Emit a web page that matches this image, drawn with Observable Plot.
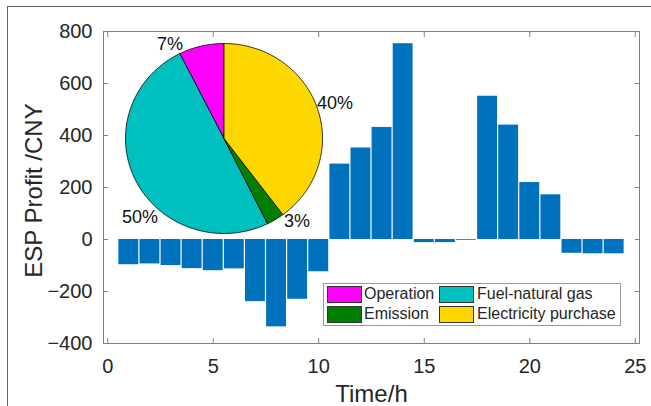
<!DOCTYPE html>
<html><head><meta charset="utf-8">
<script src="https://cdn.jsdelivr.net/npm/d3@7"></script>
<script src="https://cdn.jsdelivr.net/npm/@observablehq/plot@0.6"></script>
<style>
body{margin:0;background:#fff;}
#wrap{position:relative;width:651px;height:406px;overflow:hidden;font-family:"Liberation Sans",Arial,Helvetica,sans-serif;color:#262626;}
#wrap svg{position:absolute;left:0;top:0;}
#border{position:absolute;left:7px;top:6px;width:700px;height:500px;border:1.5px solid #666;}
#legend{position:absolute;left:323px;top:283px;width:296px;height:41px;border:1px solid #999;background:#fff;}
#legend .sw{position:absolute;width:33px;height:15px;border:1px solid #333;}
#legend .lb{position:absolute;font-size:16px;line-height:16px;white-space:nowrap;}
</style></head>
<body>
<div id="wrap"><div id="border"></div></div>
<script>
// ---- data ----
const hours = [1,2,3,4,5,6,7,8,9,10,11,12,13,14,15,16,17,18,19,20,21,22,23,24];
const profit = [-97,-94,-100,-112,-120,-113,-239,-336,-230,-124,290,352,431,753,-12,-12,-3,551,440,219,172,-53,-55,-55];
const costCategories = ["Operation","Fuel-natural gas","Emission","Electricity purchase"];
const costShares = [7.4,49.9,2.9,39.8];
const costLabels = ["7%","50%","3%","40%"];
const costColors = ["#FF00FF","#00BFBF","#008000","#FFD700"];
const xTicks = [0,5,10,15,20,25];
const yTicks = [-400,-200,0,200,400,600,800];

const font = '"Liberation Sans",Arial,Helvetica,sans-serif';
const wrap = document.getElementById("wrap");
const rows = hours.map((t,i)=>({t, v: profit[i]}));

const main = Plot.plot({
  width:651, height:406, marginLeft:103, marginRight:12, marginTop:31, marginBottom:63,
  style:{fontSize:"20px", fontFamily:font, color:"#262626", background:"transparent"},
  x:{domain:[-0.2,25.2]}, y:{domain:[-400,800]},
  marks:[
    Plot.rect(rows, {x1:d=>d.t-0.5, x2:d=>d.t+0.5, y1:0, y2:"v", fill:"#0072BD", insetLeft:0.6, insetRight:0.6}),
    Plot.frame({stroke:"#808080"}),
    Plot.axisX({ticks:xTicks, tickSize:-5, tickPadding:20, label:null, stroke:"#808080"}),
    Plot.axisX({anchor:"top", ticks:xTicks, tickSize:-5, tickFormat:()=>"", label:null, stroke:"#808080"}),
    Plot.axisY({ticks:yTicks, tickSize:-5, tickPadding:16, label:null, stroke:"#808080"}),
    Plot.axisY({anchor:"right", ticks:yTicks, tickSize:-5, tickFormat:()=>"", label:null, stroke:"#808080"}),
    Plot.text(["Time/h"], {frameAnchor:"bottom", lineAnchor:"middle", textAnchor:"middle", dy:50.5, fontSize:24, fill:"#262626"}),
    Plot.text(["ESP Profit /CNY"], {frameAnchor:"left", textAnchor:"middle", lineAnchor:"middle", rotate:-90, dx:-69, dy:3, fontSize:24, fill:"#262626"})
  ]
});
wrap.appendChild(main);

// ---- pie (counterclockwise from top, like MATLAB) ----
const total = d3.sum(costShares);
let acc = 0;
const sliceMarks = [];
costShares.forEach((s,i)=>{
  const a0 = acc/total*2*Math.PI, a1 = (acc+s)/total*2*Math.PI;
  acc += s;
  const pts = [{u:0,v:0}];
  const n = Math.max(4, Math.ceil((a1-a0)/(Math.PI/180)));
  for(let k=0;k<=n;k++){ const a=a0+(a1-a0)*k/n; pts.push({u:-Math.sin(a), v:Math.cos(a)}); }
  pts.push({u:0,v:0});
  sliceMarks.push(Plot.line(pts, {x:"u", y:"v", fill:costColors[i], stroke:"#000", strokeWidth:0.8, curve:"linear"}));
});
const labelAt = {"Operation":[-0.548,0.995], "Fuel-natural gas":[-0.853,-0.826], "Emission":[0.741,-0.868], "Electricity purchase":[1.127,0.374]};
const labelRows = costCategories.map((c,i)=>({u:labelAt[c][0], v:labelAt[c][1], text:costLabels[i]}));
const pie = Plot.plot({
  width:651, height:406, margin:0,
  style:{fontFamily:font, background:"transparent"},
  x:{domain:[-1,1], range:[125,322], axis:null},
  y:{domain:[-1,1], range:[233,43], axis:null},
  marks:[...sliceMarks, Plot.text(labelRows, {x:"u", y:"v", text:"text", fontSize:18, fill:"#111"})]
});
wrap.appendChild(pie);

// ---- legend ----
const lg = document.createElement("div"); lg.id = "legend";
costCategories.forEach((c,i)=>{
  const r = Math.floor(i/2), col = i%2;
  const sw = document.createElement("div"); sw.className="sw";
  sw.style.left = (col?115:3)+"px"; sw.style.top = (r?22:2)+"px"; sw.style.background = costColors[i];
  const lb = document.createElement("div"); lb.className="lb"; lb.textContent = c;
  lb.style.left = (col?153:40)+"px"; lb.style.top = (r?22:2)+"px";
  lg.appendChild(sw); lg.appendChild(lb);
});
wrap.appendChild(lg);
</script>
</body></html>
